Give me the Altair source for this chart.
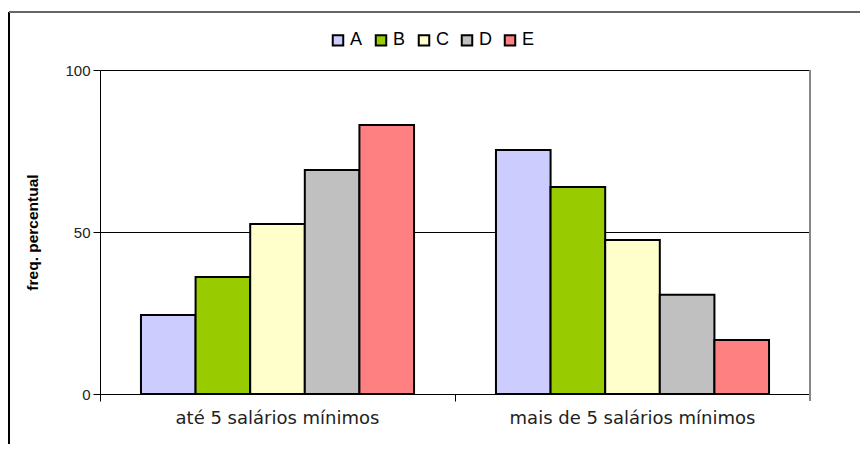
import altair as alt
import pandas as pd

categories = ["até 5 salários mínimos", "mais de 5 salários mínimos"]
series = ["A", "B", "C", "D", "E"]
values_cat1 = [24.4, 36.1, 52.5, 69.1, 83.0]
values_cat2 = [75.3, 63.9, 47.5, 30.6, 16.7]
colors = ["#CCCCFF", "#99CC00", "#FFFFCC", "#C0C0C0", "#FF8080"]
y_ticks = [0, 50, 100]

rows = []
for s, v in zip(series, values_cat1):
    rows.append({"cat": categories[0], "serie": s, "val": v})
for s, v in zip(series, values_cat2):
    rows.append({"cat": categories[1], "serie": s, "val": v})
df = pd.DataFrame(rows)

W, H = 710, 324

bars = alt.Chart(df).mark_bar(stroke="black", strokeWidth=2, clip=False).encode(
    x=alt.X("cat:N", sort=categories,
            scale=alt.Scale(paddingInner=0, paddingOuter=0),
            axis=alt.Axis(title=None, labelAngle=0, bandPosition=0, tickSize=7,
                          tickColor="black", domainColor="black", labelFont="DejaVu Sans",
                          labelFontSize=18, labelColor="#222", labelPadding=8, grid=False,
                          labelLimit=0, ticks=True)),
    xOffset=alt.XOffset("serie:N", sort=series,
                        scale=alt.Scale(paddingInner=0, paddingOuter=0.75)),
    y=alt.Y("val:Q", scale=alt.Scale(domain=[0, 100], nice=False),
            axis=alt.Axis(values=y_ticks, title="freq. percentual", titleFont="Liberation Sans",
                          titleFontSize=15.5, titleFontWeight="bold", titleColor="black",
                          titlePadding=24, labelFont="Liberation Sans", labelFontSize=15,
                          labelColor="#222", tickSize=7, tickColor="black", domainColor="black",
                          grid=True, gridColor="black", gridOpacity=1, labelPadding=3)),
    fill=alt.Fill("serie:N", sort=series, scale=alt.Scale(domain=series, range=colors),
                  legend=alt.Legend(title=None, orient="none", direction="horizontal",
                                    legendX=229, legendY=-39, symbolType="square",
                                    symbolSize=110, symbolStrokeColor="black",
                                    symbolStrokeWidth=2, labelFont="Liberation Sans",
                                    labelFontSize=18, labelColor="black", columnPadding=8,
                                    labelOffset=3)),
)

right_border = alt.Chart(df).mark_rule(color="#888", strokeWidth=2).encode(
    x=alt.value(W), y=alt.value(0), y2=alt.value(H + 7)
)
frame_left = alt.Chart(df).mark_rule(color="black", strokeWidth=2).encode(
    x=alt.value(-91), y=alt.value(-58), y2=alt.value(H + 70)
)
frame_top = alt.Chart(df).mark_rule(color="#666", strokeWidth=2).encode(
    x=alt.value(-91), x2=alt.value(W + 70), y=alt.value(-58)
)

chart = alt.layer(bars, right_border, frame_left, frame_top).properties(
    width=W, height=H,
    autosize=alt.AutoSizeParams(type="none"),
    padding={"left": 92, "top": 62, "right": 50, "bottom": 50},
).configure_view(stroke=None).configure(background="white")

chart.save("out.html", embed_options={"renderer": "svg", "actions": False})
